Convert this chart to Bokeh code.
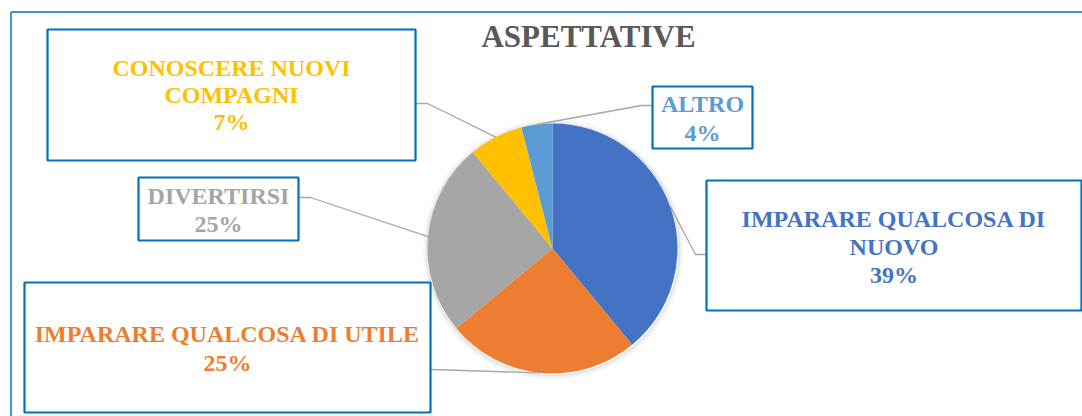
import math
from bokeh.plotting import figure
from bokeh.models import Range1d
from bokeh.core.properties import value
from bokeh.embed import file_html
from bokeh.resources import INLINE

# ---- data ----
chart_title = "ASPETTATIVE"
categories = ["IMPARARE QUALCOSA DI NUOVO", "IMPARARE QUALCOSA DI UTILE",
              "DIVERTIRSI", "CONOSCERE NUOVI COMPAGNI", "ALTRO"]
label_lines = [["IMPARARE QUALCOSA DI", "NUOVO"],
               ["IMPARARE QUALCOSA DI UTILE"],
               ["DIVERTIRSI"],
               ["CONOSCERE NUOVI", "COMPAGNI"],
               ["ALTRO"]]
values = [39, 25, 25, 7, 4]
colors = ["#4472C4", "#ED7D31", "#A5A5A5", "#FFC000", "#5B9BD5"]

# ---- layout (image pixels) ----
W, H = 1082, 416
CX, CY, R = 552, 248, 125
layout = [
    dict(box=(706, 180, 1081, 310), tx=893.5, ty=218, step=28, leader=[(706, 254), (695, 254)]),
    dict(box=(24, 282, 430, 412), tx=227, ty=333, step=29, leader=[(431, 369)]),
    dict(box=(138, 177, 298, 240), tx=218, ty=195, step=28, leader=[(298, 197), (310, 197)]),
    dict(box=(47, 29, 415, 160), tx=231, ty=67.5, step=27, leader=[(415, 103), (427, 103)]),
    dict(box=(652, 86, 752, 148), tx=702, ty=103, step=29, leader=[(652, 105), (641, 105)]),
]

SERIF = value("Liberation Serif")
BORDER = "#0070C0"

p = figure(width=W, height=H, output_backend="svg", toolbar_location=None,
           x_range=Range1d(0, W), y_range=Range1d(-H, 0),
           min_border=0, tools="")
p.axis.visible = False
p.grid.visible = False
p.outline_line_color = None

def Y(y):
    return -y

# outer frame
p.segment(x0=[10.5, 10.5], y0=[Y(11.5), Y(11.5)], x1=[1100, 10.5], y1=[Y(11.5), Y(440)],
          line_color=BORDER, line_width=1.5)

# pie shadow (soft halo)
for i, a in enumerate([0.10, 0.07, 0.05, 0.03, 0.02]):
    p.circle(x=[CX + 0.5], y=[Y(CY + 1)], radius=R + 1 + i, fill_color=None,
             line_color="#000000", line_alpha=a, line_width=1.2)

# pie wedges (clockwise from 12 o'clock)
total = float(sum(values))
cum = 0.0
starts, ends, mids = [], [], []
for v in values:
    a0 = math.pi / 2 - 2 * math.pi * cum / total
    cum += v
    a1 = math.pi / 2 - 2 * math.pi * cum / total
    starts.append(a0)
    ends.append(a1)
    mids.append((a0 + a1) / 2)

for a0, a1, c in zip(starts, ends, colors):
    p.wedge(x=[CX], y=[Y(CY)], radius=R, start_angle=a0, end_angle=a1, direction="clock",
            fill_color=c, line_color=None)

# leader lines
for lay, m in zip(layout, mids):
    px = CX + R * math.cos(m)
    py = CY - R * math.sin(m)
    pts = lay["leader"] + [(px, py)]
    p.line(x=[q[0] for q in pts], y=[Y(q[1]) for q in pts], line_color="#A6A6A6", line_width=1.3)

# boxes
for lay in layout:
    l, t, r, b = lay["box"]
    p.quad(left=[l], right=[r], top=[Y(t)], bottom=[Y(b)], fill_color="white",
           line_color=BORDER, line_width=2.2)

# title
p.text(x=[588], y=[Y(35.5)], text=[chart_title], text_font=SERIF, text_font_style="bold",
       text_font_size="31px", text_color="#595959", text_align="center", text_baseline="middle")

# labels
for lay, lines, v, c in zip(layout, label_lines, values, colors):
    texts = lines + [f"{v}%"]
    for i, s in enumerate(texts):
        p.text(x=[lay["tx"]], y=[Y(lay["ty"] + i * lay["step"])], text=[s], text_font=SERIF,
               text_font_style="bold", text_font_size="24px", text_color=c,
               text_align="center", text_baseline="middle")

open("out.html", "w").write(file_html(p, INLINE))
